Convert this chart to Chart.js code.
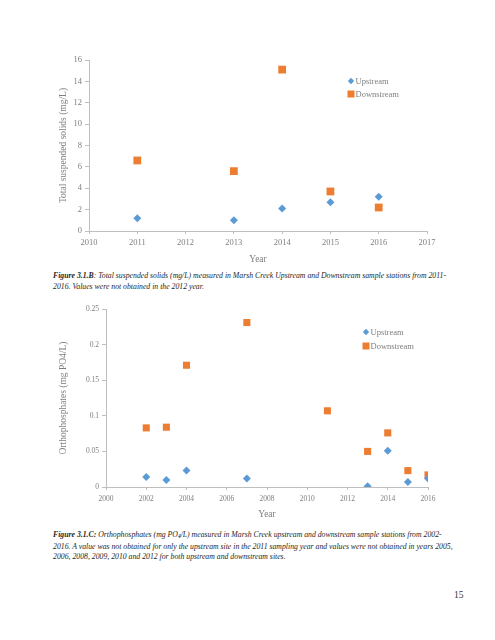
<!DOCTYPE html>
<html>
<head>
<meta charset="utf-8">
<script src="https://cdn.jsdelivr.net/npm/chart.js@4/dist/chart.umd.min.js"></script>
<style>
  body { margin: 0; background: #fff; width: 495px; height: 640px; position: relative; overflow: hidden; }
  canvas { position: absolute; left: 0; }
  .cap { position: absolute; left: 53px; font-family: "Liberation Serif", serif; font-style: italic; font-size: 7.75px; line-height: 10.5px; color: #262626; white-space: nowrap; }
  .cap b { font-weight: bold; }
  .page { position: absolute; left: 454px; top: 590px; font-family: "Liberation Serif", serif; font-size: 9.5px; color: #333; }
</style>
</head>
<body>
<canvas id="tssChart" width="495" height="230" style="top:40px"></canvas>
<div class="cap" style="top:271px"><b>Figure 3.1.B</b>: Total suspended solids (mg/L) measured in Marsh Creek Upstream and Downstream sample stations from 2011-<br>2016. Values were not obtained in the 2012 year.</div>
<canvas id="phosChart" width="495" height="225" style="top:300px"></canvas>
<div class="cap" style="top:530px"><b>Figure 3.1.C:</b> Orthophosphates (mg PO<sub style="font-size:5.5px;font-weight:bold;vertical-align:-1px">4</sub>/L) measured in Marsh Creek upstream and downstream sample stations from 2002-<br>2016. A value was not obtained for only the upstream site in the 2011 sampling year and values were not obtained in years 2005,<br>2006, 2008, 2009, 2010 and 2012 for both upstream and downstream sites.</div>
<div class="page">15</div>
<script>
// data - total suspended solids
const tssUpYears = [2011, 2013, 2014, 2015, 2016];
const tssUp = [1.2, 1.0, 2.1, 2.7, 3.2];
const tssDownYears = [2011, 2013, 2014, 2015, 2016];
const tssDown = [6.6, 5.6, 15.1, 3.7, 2.2];

// data - orthophosphates
const phosUpYears = [2002, 2003, 2004, 2007, 2013, 2014, 2015, 2016];
const phosUp = [0.014, 0.010, 0.023, 0.012, 0.001, 0.051, 0.007, 0.012];
const phosDownYears = [2002, 2003, 2004, 2007, 2011, 2013, 2014, 2015, 2016];
const phosDown = [0.083, 0.084, 0.171, 0.231, 0.107, 0.050, 0.076, 0.023, 0.017];

const seriesNames = ['Upstream', 'Downstream'];
const blue = '#5b9bd5';
const orange = '#ed7d31';
const grey = '#7f7f7f';
const axisGrey = '#bfbfbf';
const serif = '"Liberation Serif", serif';

function pts(xs, ys) {
  return xs.map((x, i) => ({ x: x, y: ys[i] }));
}

// little legend drawn inside the plot, like the excel one
const cornerLegend = {
  id: 'cornerLegend',
  afterDraw(chart, args, opts) {
    const ctx = chart.ctx;
    ctx.save();
    ctx.font = opts.fontSize + 'px ' + serif;
    ctx.textBaseline = 'middle';
    chart.data.datasets.forEach((ds, i) => {
      const x = opts.x, y = opts.y + i * opts.gap;
      ctx.fillStyle = ds.backgroundColor;
      ctx.beginPath();
      if (ds.pointStyle === 'rectRot') {
        const r = 3.2;
        ctx.moveTo(x, y - r); ctx.lineTo(x + r, y); ctx.lineTo(x, y + r); ctx.lineTo(x - r, y);
      } else {
        ctx.rect(x - 3.5, y - 3.5, 7, 7);
      }
      ctx.closePath();
      ctx.fill();
      ctx.fillStyle = grey;
      ctx.fillText(ds.label, x + 4.5, y + 0.5);
    });
    ctx.restore();
  }
};

function makeChart(id, up, down, cfg) {
  return new Chart(document.getElementById(id), {
    type: 'scatter',
    data: {
      datasets: [{
        label: seriesNames[0],
        data: up,
        pointStyle: 'rectRot',
        pointRadius: cfg.diamond,
        backgroundColor: blue,
        borderColor: blue,
        borderWidth: 0
      }, {
        label: seriesNames[1],
        data: down,
        pointStyle: 'rect',
        pointRadius: cfg.square,
        backgroundColor: orange,
        borderColor: orange,
        borderWidth: 0
      }]
    },
    options: {
      responsive: false,
      animation: false,
      layout: { padding: cfg.padding },
      plugins: {
        legend: { display: false },
        tooltip: { enabled: false },
        cornerLegend: cfg.legend
      },
      scales: {
        x: {
          type: 'linear',
          min: cfg.xMin, max: cfg.xMax,
          border: { color: axisGrey },
          grid: { drawOnChartArea: false, color: axisGrey, tickLength: 3 },
          ticks: { stepSize: cfg.xStep, color: grey, font: { family: serif, size: cfg.tickSize }, padding: cfg.xTickPad, maxRotation: 0,
            callback: v => String(v) },
          title: { display: true, text: 'Year', color: grey, font: { family: serif, size: 9.5 }, padding: 0 },
          afterFit: s => { s.height = cfg.xHeight; }
        },
        y: {
          min: 0, max: cfg.yMax,
          border: { color: axisGrey },
          grid: { drawOnChartArea: false, color: axisGrey, tickLength: 4 },
          ticks: { stepSize: cfg.yStep, color: grey, font: { family: serif, size: cfg.tickSize }, padding: 3,
            callback: v => String(v) },
          title: { display: true, text: cfg.yTitle, color: grey, font: { family: serif, size: cfg.titleSize }, padding: 0 },
          afterFit: s => { s.width = cfg.yWidth; }
        }
      }
    },
    plugins: [cornerLegend]
  });
}

makeChart('tssChart', pts(tssUpYears, tssUp), pts(tssDownYears, tssDown), {
  xMin: 2010, xMax: 2017, xStep: 1, yMax: 16, yStep: 2,
  yTitle: 'Total suspended solids (mg/L)',
  tickSize: 8.5, titleSize: 9.5,
  diamond: 4, square: 5.5,
  padding: { left: 58, right: 68, top: 20, bottom: 5 },
  yWidth: 31, xHeight: 34, xTickPad: 4,
  legend: { x: 351, y: 41, gap: 13, fontSize: 8.5 }
});

makeChart('phosChart', pts(phosUpYears, phosUp), pts(phosDownYears, phosDown), {
  xMin: 2000, xMax: 2016, xStep: 2, yMax: 0.25, yStep: 0.05,
  yTitle: 'Orthophosphates (mg PO4/L)',
  tickSize: 7.5, titleSize: 9.5,
  diamond: 4, square: 5,
  padding: { left: 58, right: 67, top: 9, bottom: 5 },
  yWidth: 48, xHeight: 33, xTickPad: 5,
  legend: { x: 366, y: 32, gap: 14, fontSize: 8.5 }
});
</script>
</body>
</html>
